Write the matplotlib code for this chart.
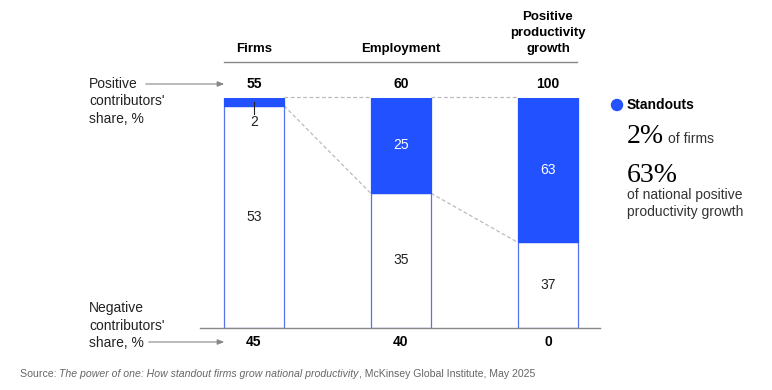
import matplotlib.pyplot as plt
from matplotlib.patches import FancyArrowPatch, Ellipse
import numpy as np

plt.rcParams['font.family'] = ['Liberation Sans', 'DejaVu Sans']

# data
categories = ['Firms', 'Employment', 'Positive\nproductivity\ngrowth']
positive_share = [55, 60, 100]
negative_share = [45, 40, 0]
standouts = [2, 25, 63]
other_positive = [53, 35, 37]

blue = '#2251FF'
edge = '#5572F0'
dash = '#bbbbbb'

fig = plt.figure(figsize=(7.72, 3.90), dpi=100)
W, H = 772, 390

def fx(px):
    return px / W

def fy(py):
    return 1 - py / H

ax = fig.add_axes([fx(200), fy(327.5), fx(400), 230 / H])
x = np.arange(len(categories))
ax.set_xlim(-0.367, 2.354)
ax.set_ylim(0, 100)
ax.axis('off')

w = 0.41
pos = np.array(positive_share, dtype=float)
std_pct = np.array(standouts) / pos * 100
oth_pct = np.array(other_positive) / pos * 100

ax.bar(x, oth_pct, width=w, color='white', edgecolor=edge, linewidth=0.9, zorder=3)
ax.bar(x, std_pct, bottom=oth_pct, width=w, color=blue, edgecolor=blue, linewidth=0.9, zorder=3)

# dashed connectors between bars
for i in range(len(x) - 1):
    ax.plot([x[i] + w / 2, x[i + 1] - w / 2], [100, 100], ls=(0, (3, 2)), color=dash, lw=0.9,
            zorder=2, clip_on=False)
    ax.plot([x[i] + w / 2, x[i + 1] - w / 2], [oth_pct[i], oth_pct[i + 1]], ls=(0, (3, 2)),
            color=dash, lw=0.9, zorder=2, clip_on=False)

# segment labels
for i in range(len(x)):
    ax.text(x[i], oth_pct[i] / 2, str(other_positive[i]), ha='center', va='center', fontsize=10,
            color='#222222', zorder=4)
    if std_pct[i] > 10:
        ax.text(x[i], oth_pct[i] + std_pct[i] / 2, str(standouts[i]), ha='center', va='center',
                fontsize=10, color='white', zorder=4)
    else:
        ax.plot([x[i], x[i]], [oth_pct[i] + std_pct[i] / 2, oth_pct[i] - 3.5], color='#222222',
                lw=0.8, zorder=4)
        ax.text(x[i], oth_pct[i] - 7, str(standouts[i]), ha='center', va='center', fontsize=10,
                color='#222222', zorder=4)

# baseline and header line
ax.plot([-0.367, 2.354], [-0.2, -0.2], color='#888888', lw=1.0, clip_on=False, zorder=5)
fig.add_artist(plt.Line2D([fx(224), fx(577)], [fy(61.5), fy(61.5)], color='#888888', lw=1.0))

# headers and totals
for i in range(len(x)):
    xp = ax.transData.transform((x[i], 0))[0] / W
    fig.text(xp, fy(55), categories[i], ha='center', va='bottom', fontsize=9.5,
             fontweight='bold', linespacing=1.42)
    fig.text(xp, fy(84), str(positive_share[i]), ha='center', va='center', fontsize=10,
             fontweight='bold')
    fig.text(xp, fy(342), str(negative_share[i]), ha='center', va='center', fontsize=10,
             fontweight='bold')

# left labels with arrows
fig.text(fx(89), fy(77), 'Positive\ncontributors\'\nshare, %', ha='left', va='top', fontsize=10,
         linespacing=1.3, color='#222222')
fig.text(fx(89), fy(350), 'Negative\ncontributors\'\nshare, %', ha='left', va='bottom',
         fontsize=10, linespacing=1.3, color='#222222')
arrow_kw = dict(arrowstyle='-|>,head_length=4,head_width=1.6', color='#888888', lw=0.8,
                mutation_scale=1, transform=fig.transFigure)
fig.add_artist(FancyArrowPatch((fx(143), fy(84)), (fx(227), fy(84)), **arrow_kw))
fig.add_artist(FancyArrowPatch((fx(146), fy(342)), (fx(227), fy(342)), **arrow_kw))

# legend / callout
fig.add_artist(Ellipse((fx(617), fy(105)), 11 / W, 11 / H, color=blue,
                       transform=fig.transFigure))
fig.text(fx(627), fy(105), 'Standouts', ha='left', va='center', fontsize=10, fontweight='bold')
fig.text(fx(627), fy(143), '2%', ha='left', va='baseline', fontsize=20,
         family='Liberation Serif')
fig.text(fx(668), fy(143), 'of firms', ha='left', va='baseline', fontsize=10, color='#333333')
fig.text(fx(627), fy(182), '63%', ha='left', va='baseline', fontsize=20,
         family='Liberation Serif')
fig.text(fx(627), fy(188), 'of national positive\nproductivity growth', ha='left', va='top',
         fontsize=10, color='#333333', linespacing=1.25)

# source, built from pieces so the title can be italic
source_parts = [('Source: ', 'normal'),
                ('The power of one: How standout firms grow national productivity', 'italic'),
                (', McKinsey Global Institute, May 2025', 'normal')]
renderer = fig.canvas.get_renderer()
xs = fx(20)
for txt, style in source_parts:
    t = fig.text(xs, fy(374), txt, ha='left', va='center', fontsize=7.6, color='#666666',
                 fontstyle=style)
    bb = t.get_window_extent(renderer=renderer)
    xs += bb.width / W

fig.savefig('out.png', dpi=100)
